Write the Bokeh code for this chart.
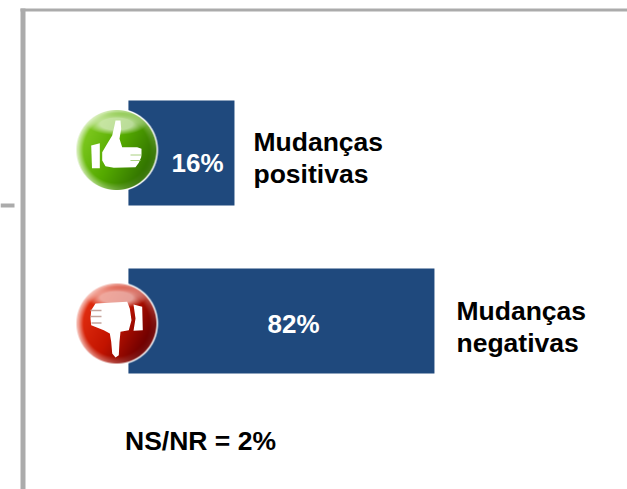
import numpy as np
from bokeh.plotting import figure
from bokeh.models import Range1d
from bokeh.core.properties import value
from bokeh.embed import file_html
from bokeh.resources import INLINE

categories = ["Mudanças positivas", "Mudanças negativas"]
label_lines = [["Mudanças", "positivas"], ["Mudanças", "negativas"]]
values = [16, 82]
footnote = "NS/NR = 2%"

W, H = 627, 489
FONT = value("Liberation Sans")
BLUE = "#1f497d"
GREY = "#ababab"

def Y(y):
    return H - y

p = figure(width=W, height=H, output_backend="svg", toolbar_location=None,
           x_range=Range1d((0 - 185.5) / 3.03, (W - 185.5) / 3.03),
           y_range=Range1d(0, H), min_border=0,
           x_axis_type=None, y_axis_type=None, outline_line_color=None)
p.extra_x_ranges["px"] = Range1d(0, W)
p.grid.visible = False
p.background_fill_color = "white"
p.border_fill_color = "white"

# frame
p.quad(left=[20, 20, 0], right=[25, W, 14], top=[Y(8), Y(8), Y(203)], bottom=[0, Y(11), Y(207)],
       x_range_name="px", color=GREY, line_alpha=0)

# bars, through the value scale
bar_y = [Y(152.5), Y(320.5)]
p.hbar(y=bar_y, left=-19, right=values, height=105, fill_color=BLUE, line_alpha=0)

# value labels
p.text(x=[197, 293], y=[Y(162), Y(323)], text=[f"{v}%" for v in values],
       x_range_name="px", text_color="white", text_font=FONT, text_font_style="bold",
       text_font_size="26px", text_align="center", text_baseline="middle")

# category labels
for (x0, y0), lines in zip([(253, 141), (456, 310)], label_lines):
    p.text(x=[x0, x0], y=[Y(y0), Y(y0 + 32)], text=lines, x_range_name="px",
           text_color="black", text_font=FONT, text_font_style="bold", text_font_size="26.5px",
           text_align="left", text_baseline="middle")

p.text(x=[124.5], y=[Y(440)], text=[footnote], x_range_name="px", text_color="black",
       text_font=FONT, text_font_style="bold", text_font_size="26.5px",
       text_align="left", text_baseline="middle")


def sphere(bright, mid, dark, size=86):
    """Shaded round badge with white rim, as an RGBA bitmap (row 0 = bottom)."""
    c = (size - 1) / 2
    yy, xx = np.mgrid[0:size, 0:size]
    dx, dy = xx - c, yy - c  # dy up
    r = np.hypot(dx, dy)
    R = 41.5
    t = np.clip((dx - 0.55 * dy + 40) / 80, 0, 1)[..., None]
    b, m, d = np.array(bright, float), np.array(mid, float), np.array(dark, float)
    rgb = np.where(t < .5, b + (m - b) * t * 2, m + (d - m) * (t - .5) * 2)
    # pale edge
    edge = np.clip((r - 33) / 6, 0, 1)[..., None] * np.clip(1.1 - t, 0, 1) * .65
    rgb = rgb + (255 - rgb) * edge
    # top highlight: a wide arc fading downward
    hl = np.clip(1 - np.hypot(dx / 30, (dy - 26) / 11), 0, 1)[..., None]
    rgb = rgb + (255 - rgb) * np.clip(hl * 1.3, 0, .6)
    # white rim
    rim = np.clip(r - (R - 2), 0, 1)[..., None]
    rgb = rgb + (255 - rgb) * rim
    a = np.clip(R + .5 - r, 0, 1) * 255
    img = np.dstack([rgb, a]).astype(np.uint8)
    out = np.zeros((size, size), dtype=np.uint32)
    v = out.view(dtype=np.uint8).reshape((size, size, 4))
    v[:, :, :] = img
    return out


for (cx, cy), cols in zip([(116, 149.5), (116, 323)],
                          [((125, 200, 30), (85, 170, 0), (50, 115, 0)),
                           ((225, 45, 15), (195, 20, 0), (110, 0, 0))]):
    p.image_rgba(image=[sphere(*cols)], x=[cx - 43], y=[Y(cy + 43)], dw=[86], dh=[86],
                 x_range_name="px")

# thumb shapes in page pixels
up_x = [101.7, 106.7, 111.7, 114, 115, 120, 120.7, 119, 121.7, 136.7, 141, 141, 140.7, 138.3, 135, 113.3, 105, 101.7]
up_y = [151.7, 143.3, 135, 125, 120, 120, 128.3, 138.3, 146.7, 146.7, 148.3, 153.3, 156.7, 162.3, 166.7, 167.3, 165.7, 160]
cuff_x = [90.7, 99.3, 99.3, 91.5]
cuff_y = [145, 142.7, 167.7, 167.7]
p.patch(up_x, [Y(v) for v in up_y], x_range_name="px", color="white", line_alpha=0)
p.patch(cuff_x, [Y(v) for v in cuff_y], x_range_name="px", color="white", line_alpha=0)
p.multi_line([[130, 141], [130, 140]],
             [[Y(154.5)] * 2, [Y(160)] * 2],
             x_range_name="px", line_color="#a9d080", line_width=1)

dn_x = [90.7, 95, 126.7, 129.3, 131, 128.3, 120, 119, 118.3, 115, 111.7, 110.7, 109.3, 103.3, 90.7, 90]
dn_y = [309.7, 303, 301.3, 308, 319.7, 329.7, 331.3, 341.3, 354.7, 357, 353, 341.3, 333, 329.7, 324.7, 318]
cuff2_x = [133, 141.7, 142.3, 133, 135]
cuff2_y = [304, 306.3, 329.7, 330.3, 318]
p.patch(dn_x, [Y(v) for v in dn_y], x_range_name="px", color="white", line_alpha=0)
p.patch(cuff2_x, [Y(v) for v in cuff2_y], x_range_name="px", color="white", line_alpha=0)
p.multi_line([[90, 101], [90, 101], [91, 101]],
             [[Y(310)] * 2, [Y(316)] * 2, [Y(322.5)] * 2],
             x_range_name="px", line_color="#c4a49c", line_width=1.5)

open("out.html", "w").write(file_html(p, INLINE))
